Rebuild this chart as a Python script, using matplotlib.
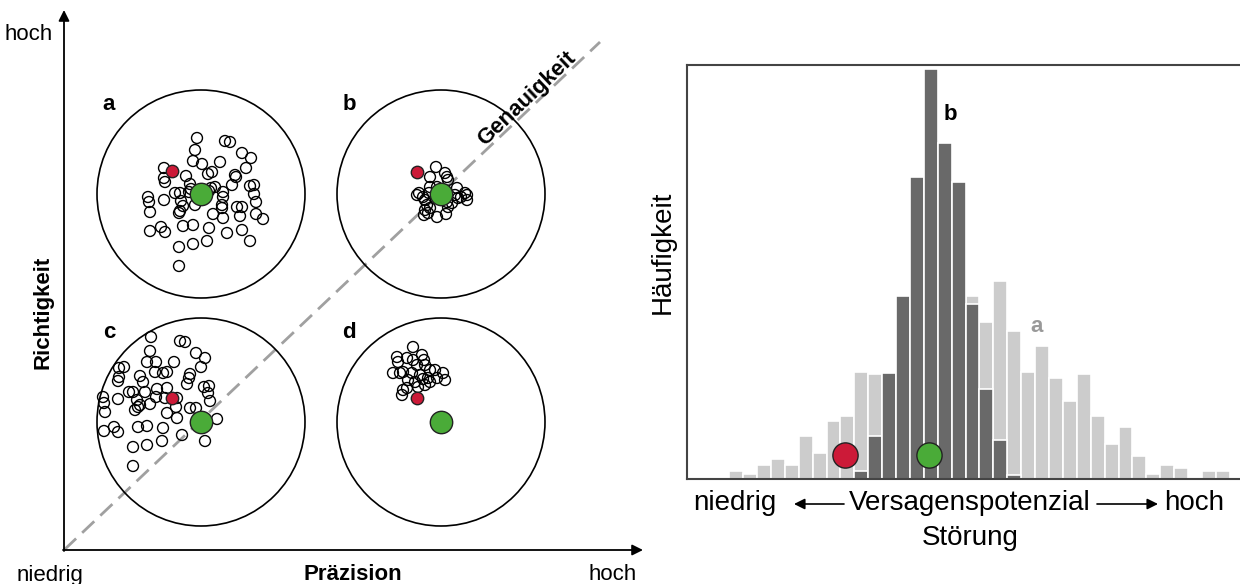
import numpy as np
import matplotlib
matplotlib.use("Agg")
import matplotlib.pyplot as plt
from matplotlib.patches import Circle

plt.rcParams['font.family'] = ['Liberation Sans', 'DejaVu Sans']

# scatter offsets (px) relative to the target centre, y pointing up
pts_a = [(-4, 56), (24, 53), (29, 52), (-6, 44), (41, 41), (50, 36), (19, 32), (-8, 33),
         (1, 30), (-37, 26), (45, 26), (11, 22), (7, 20), (-15, 18), (34, 19), (35, 17),
         (-37, 16), (-36, 12), (31, 9), (49, 8), (53, 9), (14, 7), (-11, 10), (-53, -3),
         (-52, -8), (-51, -18), (-37, -6), (-26, 1), (-21, 1), (-12, 2), (22, 2), (22, -3),
         (53, 0), (55, -8), (-20, -7), (-18, -12), (-21, -17), (-22, -19), (-6, -11),
         (21, -11), (21, -14), (12, -20), (36, -13), (41, -13), (39, -22), (22, -24),
         (55, -20), (62, -25), (-51, -37), (-40, -33), (-36, -38), (-18, -32), (-8, -31),
         (8, -34), (26, -39), (41, -36), (6, -47), (-8, -50), (-22, -53), (49, -47),
         (-22, -72), (10, 6), (8, 3), (-10, 5)]
pts_b = [(-5, 27), (4, 21), (6, 17), (-11, 17), (7, 14), (-22, 1), (-24, -1), (-18, -3),
         (-16, -6), (16, 6), (14, -1), (20, -3), (24, 1), (26, -6), (26, -1), (17, -4),
         (-14, -11), (-16, -16), (-11, -14), (-13, -19), (-17, -21), (-4, -23), (5, -20),
         (7, -13), (-12, 1), (-4, 7), (-11, 7), (6, -8), (11, -9)]
pts_c = [(-50, 85), (-21, 81), (-16, 80), (-51, 71), (-5, 69), (4, 64), (-54, 60), (-45, 60),
         (-27, 60), (-82, 54), (-77, 55), (0, 55), (-46, 50), (-38, 49), (-34, 50), (-61, 46),
         (-11, 48), (-12, 44), (-82, 45), (-83, 41), (-58, 40), (-14, 38), (3, 35), (8, 36),
         (7, 29), (9, 21), (-98, 25), (-97, 19), (-96, 10), (-83, 23), (-72, 30), (-68, 30),
         (-56, 30), (-44, 33), (-34, 34), (-45, 25), (-36, 24), (-64, 22), (-66, 12),
         (-63, 15), (-61, 17), (-51, 18), (-24, 24), (-25, 15), (-11, 14), (-5, 14), (-34, 9),
         (-24, 4), (16, 3), (-97, -9), (-87, -5), (-83, -10), (-63, -5), (-54, -4), (-38, -6),
         (-19, -13), (4, -19), (-39, -19), (-54, -23), (-68, -25), (-68, -44)]
pts_d = [(-28, 75), (-44, 65), (-43, 60), (-34, 64), (-19, 67), (-17, 62), (-16, 57),
         (-24, 57), (-41, 49), (-38, 50), (-48, 49), (-29, 49), (-21, 47), (-11, 52), (-6, 52),
         (2, 49), (4, 42), (-18, 43), (-13, 44), (-33, 42), (-26, 40), (-38, 32), (-39, 27),
         (-34, 34), (-23, 35), (-16, 37), (-11, 40), (-28, 62), (-4, 44)]
red_a = (-29, 23)
red_b = (-24, 22)
red_c = (-29, 24)
red_d = (-24, 24)
panel_labels = ['a', 'b', 'c', 'd']

# histogram (bin index, height)
bins_a = np.arange(36)
hist_a = [8, 5, 14, 20, 14, 43, 26, 58, 63, 107, 105, 100, 130, 150, 165, 175, 180, 183,
          157, 198, 148, 107, 133, 101, 78, 105, 63, 35, 52, 23, 5, 14, 11, 0, 8, 8]
bins_b = np.arange(9, 21)
hist_b = [8, 43, 106, 183, 302, 410, 336, 297, 175, 90, 39, 4]
red_hist = (7.82, 24)
green_hist = (13.89, 24)

RED = '#cc1a38'
GREEN = '#4aab38'
LIGHT = '#cccccc'
DARK = '#696969'

fig = plt.figure(figsize=(12.4, 5.84), dpi=100)
ax = fig.add_axes([0, 0, 1, 1])
ax.set_xlim(0, 1240)
ax.set_ylim(584, 0)
ax.axis('off')

# axes arrows
ax.annotate('', xy=(64, 10), xytext=(64, 551),
            arrowprops=dict(arrowstyle='-|>', color='black', lw=1.3,
                            mutation_scale=16, shrinkA=0, shrinkB=0))
ax.annotate('', xy=(643, 550), xytext=(63, 550),
            arrowprops=dict(arrowstyle='-|>', color='black', lw=1.3,
                            mutation_scale=16, shrinkA=0, shrinkB=0))
ax.plot([64, 600], [550, 42], color='#a0a0a0', lw=2, dashes=(6, 3), zorder=1)

ang = np.degrees(np.arctan2(508, 536))
ax.text(527, 99, 'Genauigkeit', rotation=ang, rotation_mode='anchor',
        ha='center', va='center', fontsize=16, fontweight='bold')

centers = [(201, 194), (441, 194), (201, 422), (441, 422)]
for (cx, cy), pts, red, lab in zip(centers, [pts_a, pts_b, pts_c, pts_d],
                                   [red_a, red_b, red_c, red_d], panel_labels):
    ax.add_patch(Circle((cx, cy), 104, fill=False, ec='black', lw=1.2, zorder=2))
    p = np.array(pts)
    ax.scatter(cx + p[:, 0], cy - p[:, 1], s=62, facecolor='none',
               edgecolor='black', linewidth=1.0, zorder=3)
    ax.scatter([cx + red[0]], [cy - red[1]], s=80, color=RED,
               edgecolor='#222222', linewidth=1.0, zorder=4)
    ax.scatter([cx], [cy], s=260, color=GREEN, edgecolor='#222222',
               linewidth=1.0, zorder=5)
    ax.text(cx - 92, cy - 89, lab, fontsize=16, fontweight='bold',
            ha='center', va='center')

ax.text(29, 35, 'hoch', fontsize=16, ha='center', va='center')
ax.text(50, 575, 'niedrig', fontsize=16, ha='center', va='center')
ax.text(353, 575, 'Präzision', fontsize=16, fontweight='bold', ha='center', va='center')
ax.text(613, 575, 'hoch', fontsize=16, ha='center', va='center')
ax.text(43, 312, 'Richtigkeit', fontsize=16, fontweight='bold', rotation=90,
        ha='center', va='center')

# right panel labels
ax.text(663, 252, 'Häufigkeit', fontsize=20, rotation=90, ha='center', va='center')
ax.text(735, 503, 'niedrig', fontsize=20, ha='center', va='center')
ax.text(970, 503, 'Versagenspotenzial', fontsize=20, ha='center', va='center')
ax.text(1194, 503, 'hoch', fontsize=20, ha='center', va='center')
ax.text(970, 538, 'Störung', fontsize=20, ha='center', va='center')
ax.annotate('', xy=(794, 504), xytext=(844, 504),
            arrowprops=dict(arrowstyle='-|>', color='black', lw=1.2,
                            mutation_scale=16, shrinkA=0, shrinkB=0))
ax.annotate('', xy=(1158, 504), xytext=(1097, 504),
            arrowprops=dict(arrowstyle='-|>', color='black', lw=1.2,
                            mutation_scale=16, shrinkA=0, shrinkB=0))

# histogram
ax2 = fig.add_axes([687 / 1240, (584 - 479) / 584, (1240 - 687) / 1240, (479 - 65) / 584])
ax2.bar(bins_a, hist_a, width=1.0, color=LIGHT, edgecolor='white', linewidth=1.2)
ax2.bar(bins_b, hist_b, width=1.0, color=DARK, edgecolor='white', linewidth=1.2)
ax2.scatter(*red_hist, s=330, color=RED, edgecolor='#222222', linewidth=1.0, zorder=5)
ax2.scatter(*green_hist, s=330, color=GREEN, edgecolor='#222222', linewidth=1.0, zorder=5)
ax2.text(15.38, 364, 'b', fontsize=16, fontweight='bold', ha='center', va='center')
ax2.text(21.64, 153, 'a', fontsize=16, fontweight='bold', color='#999999',
         ha='center', va='center')
ax2.set_xlim(-3.54, 36.24)
ax2.set_ylim(0, 414)
ax2.set_xticks([])
ax2.set_yticks([])
for side in ['top', 'left', 'bottom']:
    ax2.spines[side].set_color('#444444')
    ax2.spines[side].set_linewidth(1.5)
ax2.spines['right'].set_visible(False)

fig.savefig('out.png', dpi=100)
